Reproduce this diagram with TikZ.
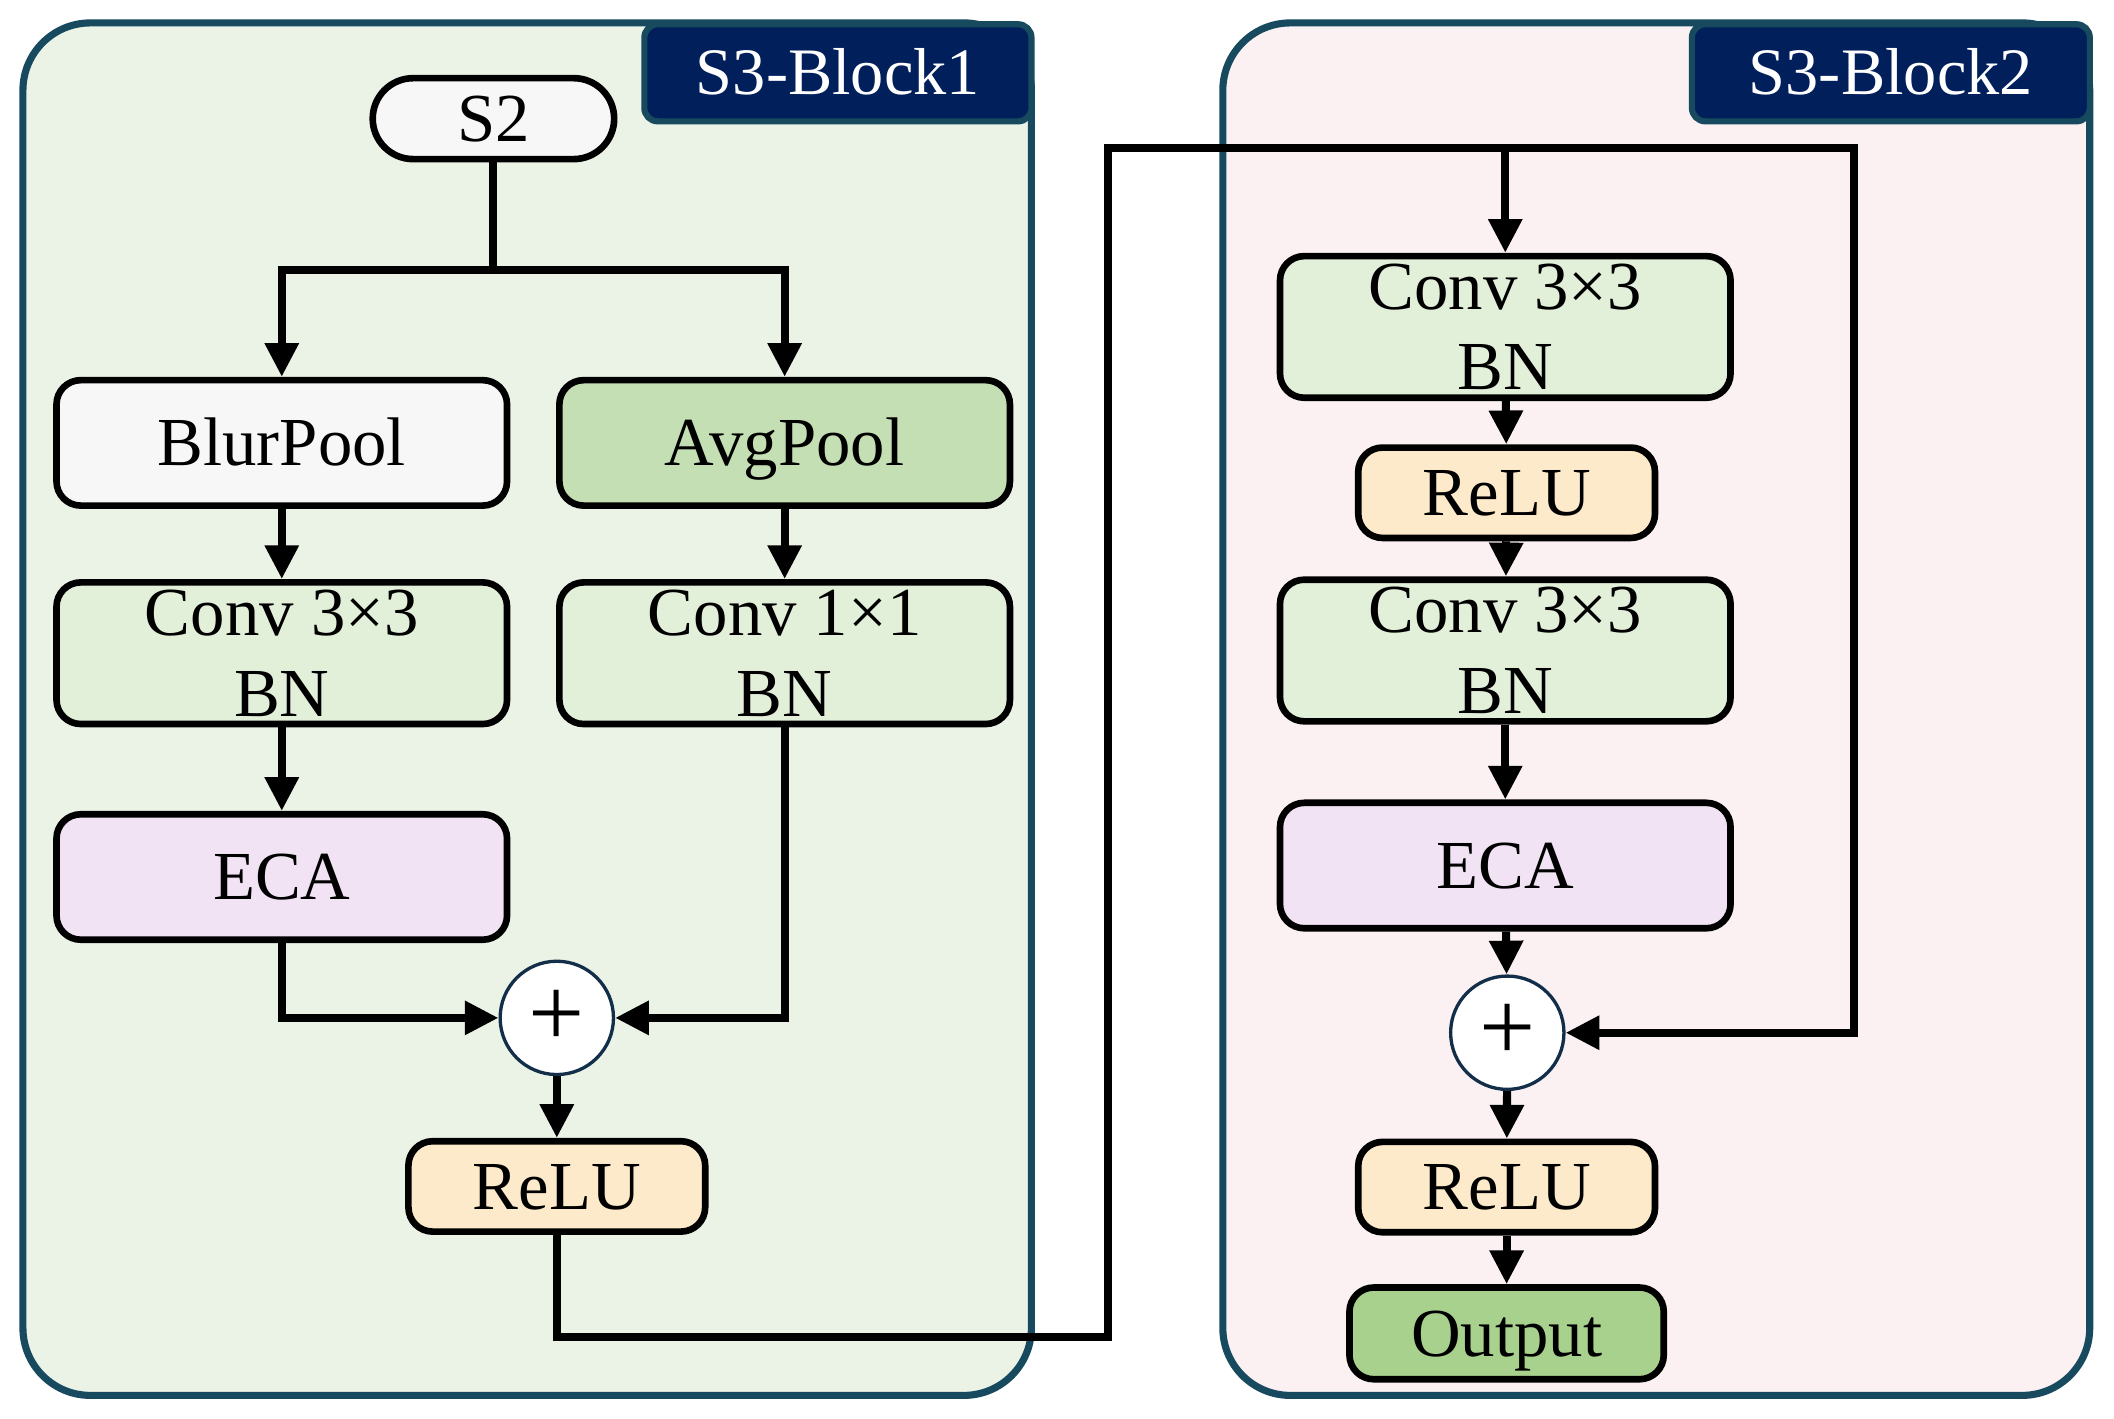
\documentclass[tikz,border=0pt]{standalone}
\usepackage{fontspec}
\setmainfont{Liberation Serif}
\usetikzlibrary{arrows.meta,calc}
\definecolor{panelborder}{HTML}{174A5E}
\definecolor{leftfill}{HTML}{EBF3E7}
\definecolor{rightfill}{HTML}{FBF1F2}
\definecolor{labelfill}{HTML}{001F5B}
\definecolor{greyfill}{HTML}{F7F7F7}
\definecolor{avgfill}{HTML}{C5DFB4}
\definecolor{convfill}{HTML}{E2EFD9}
\definecolor{ecafill}{HTML}{F1E3F4}
\definecolor{relufill}{HTML}{FDEACA}
\definecolor{outfill}{HTML}{A9D18E}
\definecolor{plusborder}{HTML}{132E48}
\begin{document}
\begin{tikzpicture}[x=0.01cm,y=-0.01cm,
  panel/.style={draw=panelborder,line width=1.5pt,rounded corners=0.5cm},
  blocklabel/.style={draw=panelborder,line width=1.3pt,fill=labelfill,rounded corners=0.1cm,
    text=white,font=\fontsize{14}{17}\selectfont,inner sep=0pt,minimum height=0.72cm,
    text height=9.3pt,text depth=0pt},
  box/.style={draw,line width=1.4pt,rounded corners=0.18cm,inner sep=0pt,align=center,
    font=\fontsize{14.5}{17}\selectfont},
  single/.style={text height=9.6pt,text depth=0pt},
  wide/.style={box,minimum width=3.34cm},
  narrow/.style={box,single,minimum width=2.2cm,minimum height=0.67cm,fill=relufill},
  onel/.style={single,minimum height=0.93cm},
  twol/.style={minimum height=1.05cm,fill=convfill},
  plusnode/.style={circle,draw=plusborder,line width=0.7pt,fill=white,minimum size=0.84cm,
    inner sep=0pt,font=\fontsize{21}{21}\selectfont},
  arr/.style={line width=1.7pt,line join=miter,-{Triangle[length=0.25cm,width=0.24cm]}},
  ln/.style={line width=1.7pt,line join=miter}]
\useasboundingbox (0,0) rectangle (1568,1052);

% panels
\draw[panel,fill=leftfill] (17,17) rectangle (765,1035);
\draw[panel,fill=rightfill] (907,17) rectangle (1550,1035);
\node[blocklabel,minimum width=2.87cm] (lab1) at (621.5,54) {S3-Block1};
\node[blocklabel,minimum width=2.95cm] (lab2) at (1402.5,54) {S3-Block2};

% left block nodes
\node[box,single,fill=greyfill,rounded corners=0.3cm,minimum width=1.79cm,minimum height=0.6cm] (s2) at (366,88) {S2};
\node[wide,onel,fill=greyfill] (blur) at (209,328.5) {BlurPool};
\node[wide,onel,fill=avgfill] (avg) at (582,328.5) {AvgPool};
\node[wide,twol] (c33a) at (209,484.5) {Conv 3×3\\BN};
\node[wide,twol] (c11) at (582,484.5) {Conv 1×1\\BN};
\node[wide,onel,fill=ecafill] (eca1) at (209,650.5) {ECA};
\node[plusnode] (plus1) at (413,755) {+};
\node[narrow] (relu1) at (413,880) {ReLU};

% right block nodes
\node[wide,twol] (c33b) at (1116.5,242.5) {Conv 3×3\\BN};
\node[narrow] (relu2) at (1117.5,365.5) {ReLU};
\node[wide,twol] (c33c) at (1116.5,482.5) {Conv 3×3\\BN};
\node[wide,onel,fill=ecafill] (eca2) at (1116.5,642) {ECA};
\node[plusnode] (plus2) at (1118,766) {+};
\node[narrow] (relu3) at (1117.5,880.5) {ReLU};
\node[box,single,fill=outfill,minimum width=2.33cm,minimum height=0.68cm] (out) at (1117.5,989) {Output};

% coordinates for the long connector
\coordinate (split) at (366,200);
\coordinate (la) at (822,992);
\coordinate (lb) at (822,110);
\coordinate (lc) at (1375,110);

% left connectors
\draw[ln] (s2.south) -- (split);
\draw[arr] (split) -| (blur.north);
\draw[arr] (split) -| (avg.north);
\draw[arr] (blur) -- (c33a);
\draw[arr] (avg) -- (c11);
\draw[arr] (c33a) -- (eca1);
\draw[arr] (eca1.south) |- (plus1.west);
\draw[arr] (c11.south) |- (plus1.east);
\draw[arr] (plus1) -- (relu1);

% long forward connector
\draw[arr] (relu1.south) |- (la) -- (lb) -- (lc) |- (plus2.east);
\draw[arr] (c33b.north |- lb) -- (c33b.north);

% right connectors
\draw[arr] (c33b) -- (relu2);
\draw[arr] (relu2) -- (c33c);
\draw[arr] (c33c) -- (eca2);
\draw[arr] (eca2) -- (plus2);
\draw[arr] (plus2) -- (relu3);
\draw[arr] (relu3) -- (out);
\end{tikzpicture}
\end{document}
